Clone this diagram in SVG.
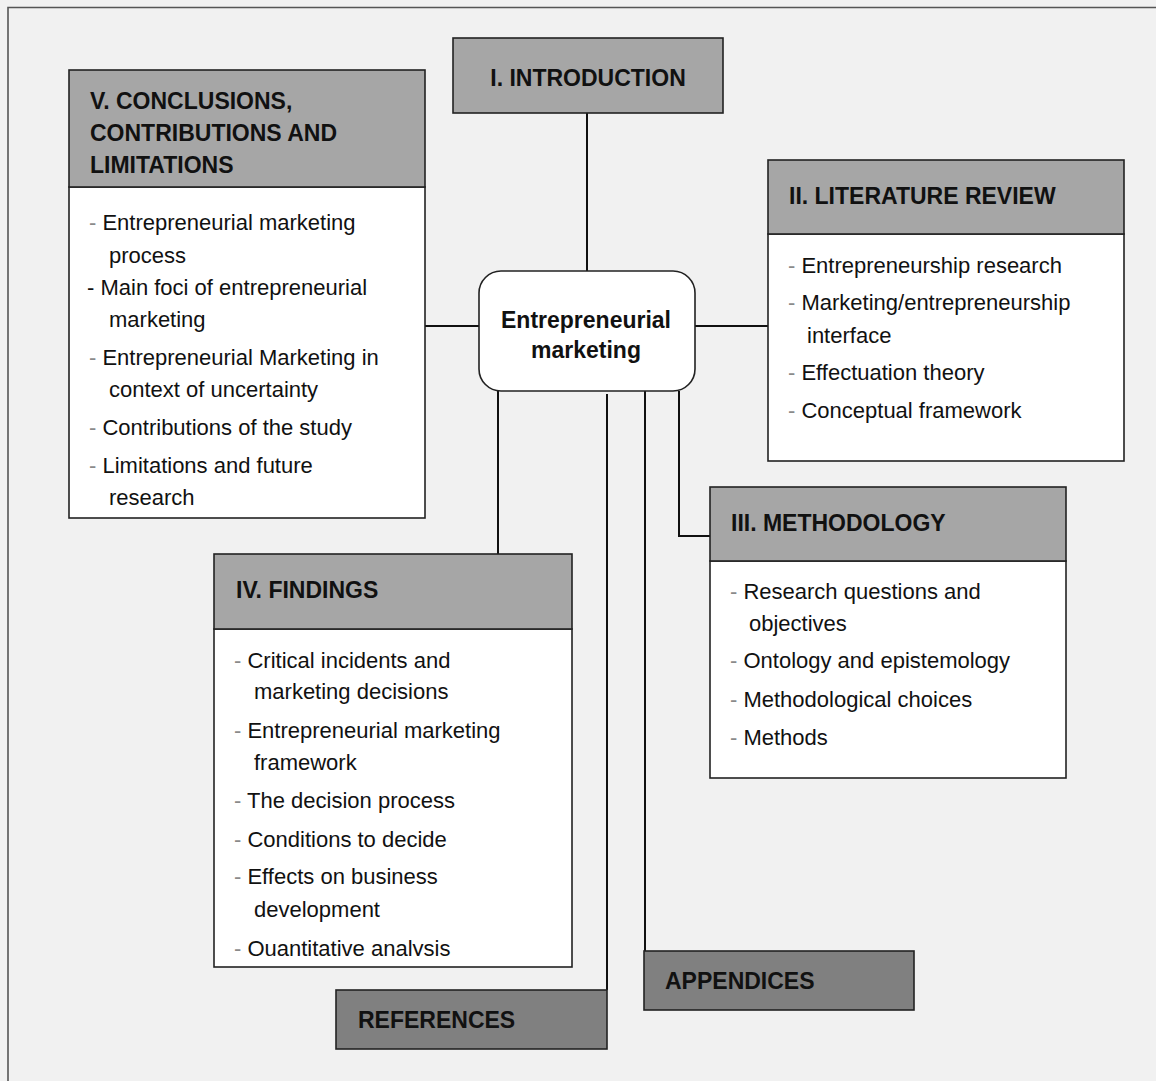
<svg xmlns="http://www.w3.org/2000/svg" width="1156" height="1081" viewBox="0 0 1156 1081">
<style>
.bg{fill:#f1f1f1}
.frame{stroke:#555;stroke-width:1.6;fill:none}
.hdr{fill:#a6a6a6;stroke:#222;stroke-width:1.6}
.dark{fill:#808080;stroke:#222;stroke-width:1.6}
.body{fill:#fff;stroke:#222;stroke-width:1.6}
.center{fill:#fff;stroke:#222;stroke-width:1.6}
.conn{stroke:#111;stroke-width:2;fill:none}
.h{font-family:"Liberation Sans",Arial,sans-serif;font-weight:bold;font-size:23px;fill:#111}
.t{font-family:"Liberation Sans",Arial,sans-serif;font-size:22px;fill:#111}
.d{fill:#8a8a8a}
</style>
<defs>
<clipPath id="clipIV"><rect x="214" y="629" width="358" height="327"/></clipPath>
</defs>
<rect class="bg" x="0" y="0" width="1156" height="1081"/>
<path class="frame" d="M8 1081 V7.5 H1156"/>

<g id="connectors">
<line class="conn" x1="587" y1="113" x2="587" y2="271"/>
<line class="conn" x1="425" y1="326" x2="479" y2="326"/>
<line class="conn" x1="695" y1="326" x2="768" y2="326"/>
<polyline class="conn" points="679,391 679,536 710,536"/>
<line class="conn" x1="498" y1="391" x2="498" y2="554"/>
<line class="conn" x1="607" y1="394" x2="607" y2="990"/>
<line class="conn" x1="645" y1="391" x2="645" y2="951"/>
</g>

<g id="intro">
<rect class="hdr" x="453" y="38" width="270" height="75"/>
<text class="h" x="588" y="86" text-anchor="middle">I. INTRODUCTION</text>
</g>

<g id="center">
<rect class="center" x="479" y="271" width="216" height="120" rx="22" ry="22"/>
<text class="h" x="586" y="328" text-anchor="middle">Entrepreneurial</text>
<text class="h" x="586" y="358" text-anchor="middle">marketing</text>
</g>

<g id="conclusions">
<rect class="body" x="69" y="187" width="356" height="331"/>
<rect class="hdr" x="69" y="70" width="356" height="117"/>
<text class="h" x="90" y="109">V. CONCLUSIONS,</text>
<text class="h" x="90" y="141">CONTRIBUTIONS AND</text>
<text class="h" x="90" y="173">LIMITATIONS</text>
<text class="t" x="89" y="230"><tspan class="d">-</tspan> Entrepreneurial marketing</text>
<text class="t" x="109" y="263">process</text>
<text class="t" x="87" y="295">- Main foci of entrepreneurial</text>
<text class="t" x="109" y="327">marketing</text>
<text class="t" x="89" y="365"><tspan class="d">-</tspan> Entrepreneurial Marketing in</text>
<text class="t" x="109" y="397">context of uncertainty</text>
<text class="t" x="89" y="435"><tspan class="d">-</tspan> Contributions of the study</text>
<text class="t" x="89" y="473"><tspan class="d">-</tspan> Limitations and future</text>
<text class="t" x="109" y="505">research</text>
</g>

<g id="literature">
<rect class="body" x="768" y="234" width="356" height="227"/>
<rect class="hdr" x="768" y="160" width="356" height="74"/>
<text class="h" x="789" y="204">II. LITERATURE REVIEW</text>
<text class="t" x="788" y="273"><tspan class="d">-</tspan> Entrepreneurship research</text>
<text class="t" x="788" y="310"><tspan class="d">-</tspan> Marketing/entrepreneurship</text>
<text class="t" x="807" y="343">interface</text>
<text class="t" x="788" y="380"><tspan class="d">-</tspan> Effectuation theory</text>
<text class="t" x="788" y="418"><tspan class="d">-</tspan> Conceptual framework</text>
</g>

<g id="methodology">
<rect class="body" x="710" y="561" width="356" height="217"/>
<rect class="hdr" x="710" y="487" width="356" height="74"/>
<text class="h" x="731" y="531">III. METHODOLOGY</text>
<text class="t" x="730" y="599"><tspan class="d">-</tspan> Research questions and</text>
<text class="t" x="749" y="631">objectives</text>
<text class="t" x="730" y="668"><tspan class="d">-</tspan> Ontology and epistemology</text>
<text class="t" x="730" y="707"><tspan class="d">-</tspan> Methodological choices</text>
<text class="t" x="730" y="745"><tspan class="d">-</tspan> Methods</text>
</g>

<g id="findings">
<rect class="body" x="214" y="629" width="358" height="338"/>
<rect class="hdr" x="214" y="554" width="358" height="75"/>
<text class="h" x="236" y="598">IV. FINDINGS</text>
<text class="t" x="234" y="668"><tspan class="d">-</tspan> Critical incidents and</text>
<text class="t" x="254" y="699">marketing decisions</text>
<text class="t" x="234" y="738"><tspan class="d">-</tspan> Entrepreneurial marketing</text>
<text class="t" x="254" y="770">framework</text>
<text class="t" x="234" y="808"><tspan class="d">-</tspan> The decision process</text>
<text class="t" x="234" y="847"><tspan class="d">-</tspan> Conditions to decide</text>
<text class="t" x="234" y="884"><tspan class="d">-</tspan> Effects on business</text>
<text class="t" x="254" y="917">development</text>
<text class="t" x="234" y="956" clip-path="url(#clipIV)"><tspan class="d">-</tspan> Quantitative analysis</text>
</g>

<g id="references">
<rect class="dark" x="336" y="990" width="271" height="59"/>
<text class="h" x="358" y="1028">REFERENCES</text>
</g>

<g id="appendices">
<rect class="dark" x="644" y="951" width="270" height="59"/>
<text class="h" x="665" y="989">APPENDICES</text>
</g>
</svg>
